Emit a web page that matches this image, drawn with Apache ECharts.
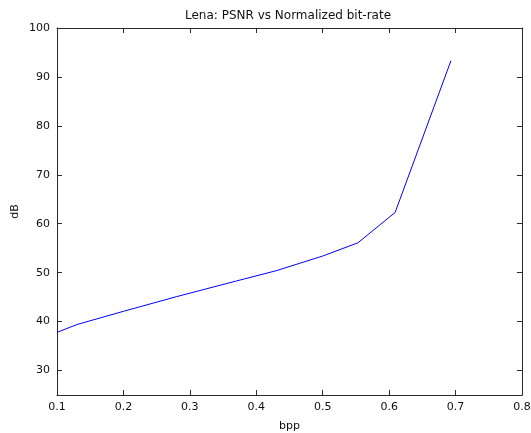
<!DOCTYPE html>
<html>
<head>
<meta charset="utf-8">
<script src="https://cdn.jsdelivr.net/npm/echarts@6/dist/echarts.min.js"></script>
<style>html,body{margin:0;padding:0;background:#fff;}#c{width:531px;height:433px;}</style>
</head>
<body>
<div id="c"></div>
<script>
const titleText = "Lena: PSNR vs Normalized bit-rate";
const xName = "bpp";
const yName = "dB";
const bpp = [0.10, 0.13, 0.20, 0.28, 0.37, 0.43, 0.50, 0.553, 0.609, 0.693];
const psnr = [37.8, 39.4, 42.1, 45.1, 48.3, 50.4, 53.4, 56.1, 62.3, 93.3];
const xTicks = [0.1, 0.2, 0.3, 0.4, 0.5, 0.6, 0.7, 0.8];
const yTicks = [30, 40, 50, 60, 70, 80, 90, 100];

const font = "DejaVu Sans, Liberation Sans, sans-serif";
const axCol = "#2a2a2a";
const chart = echarts.init(document.getElementById('c'), null, {renderer: 'canvas'});
function xAx(pos, labels) {
  return {
    type: 'value', position: pos, min: 0.1, max: 0.8,
    name: labels ? xName : '', nameLocation: 'middle', nameGap: 26,
    nameTextStyle: {color: '#111', fontFamily: font, fontSize: 11},
    axisLine: {show: true, onZero: false, lineStyle: {color: axCol, width: 1}},
    axisTick: {show: true, inside: true, length: 5, customValues: xTicks, lineStyle: {color: axCol}},
    axisLabel: {show: labels, customValues: xTicks, margin: 7, color: '#111', fontFamily: font, fontSize: 11,
      formatter: v => (Math.round(v * 10) / 10).toFixed(1)},
    splitLine: {show: false}
  };
}
function yAx(pos, labels) {
  return {
    type: 'value', position: pos, min: 25, max: 100,
    name: labels ? yName : '', nameLocation: 'middle', nameGap: 36, nameMoveOverlap: false,
    nameTextStyle: {color: '#111', fontFamily: font, fontSize: 11},
    axisLine: {show: true, onZero: false, lineStyle: {color: axCol, width: 1}},
    axisTick: {show: true, inside: true, length: 5, customValues: yTicks, lineStyle: {color: axCol}},
    axisLabel: {show: labels, customValues: yTicks, margin: 7, color: '#111', fontFamily: font, fontSize: 11},
    splitLine: {show: false}
  };
}
chart.setOption({
  animation: false,
  backgroundColor: '#fff',
  title: {text: titleText, left: 180, top: 5,
    textStyle: {fontFamily: font, fontSize: 12, fontWeight: 'normal', color: '#111'}},
  grid: {left: 57, right: 9, top: 28, bottom: 38, containLabel: false, outerBoundsMode: 'none'},
  xAxis: [xAx('bottom', true), xAx('top', false)],
  yAxis: [yAx('left', true), yAx('right', false)],
  series: [{
    type: 'line', xAxisIndex: 0, yAxisIndex: 0,
    data: bpp.map((x, i) => [x, psnr[i]]),
    showSymbol: false, symbol: 'none',
    lineStyle: {color: '#0000ff', width: 1}
  }]
});
</script>
</body>
</html>
